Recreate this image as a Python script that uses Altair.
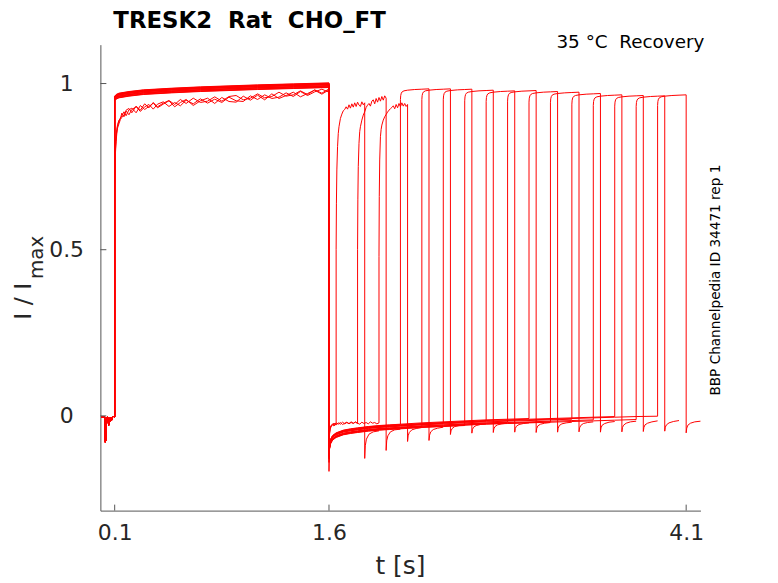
import altair as alt
import pandas as pd

# ---------------- values ----------------
X_TICKS = [0.1, 1.6, 4.1]
Y_TICKS = [0, 0.5, 1]
X_DOMAIN = [0.0, 4.2]
Y_DOMAIN = [-0.285, 1.117]

NB = "\u00a0"
TITLE = "TRESK2" + NB + " Rat" + NB + " CHO_FT"
SUBTITLE = "35 °C" + NB + " Recovery"
SIDE_TEXT = "BBP Channelpedia ID 34471 rep 1"
Y_LABEL_MAIN = "I / I"
Y_LABEL_SUB = "max"
X_LABEL = "t [s]"

# pre-pulse baseline (all sweeps)
PRE_T = [0.005, 0.03, 0.034, 0.037, 0.040, 0.043, 0.05, 0.058, 0.061, 0.066, 0.072, 0.078, 0.085, 0.092, 0.1]
PRE_I = [-0.003, -0.003, -0.079, -0.07, -0.075, -0.005, -0.004, -0.028, -0.006, -0.018, -0.004, -0.013, -0.003, -0.002, -0.003]

# conditioning pulse, smooth sweeps (4..16)
P1_T = [0.1, 0.11, 0.13, 0.2, 0.3, 0.5, 0.7, 0.9, 1.1, 1.35, 1.6]
P1_I = [0.956, 0.961, 0.965, 0.970, 0.975, 0.980, 0.984, 0.987, 0.990, 0.993, 0.996]
P1_OFFSET = [0.004, -0.006, 0.001, -0.003, 0.006, -0.008, 0.002, -0.004, 0.005, -0.002, 0.0, -0.007, 0.003]

# conditioning pulse, noisy sweeps (1..3)
N1_T = [0.1, 0.103, 0.106, 0.11, 0.115, 0.12, 0.13, 0.14, 0.15, 0.165, 0.18, 0.2, 0.22, 0.25, 0.28,
        0.31, 0.34, 0.37, 0.4, 0.44, 0.48, 0.52, 0.56, 0.6, 0.65, 0.7, 0.75, 0.8, 0.85, 0.9, 0.95,
        1.0, 1.05, 1.1, 1.15, 1.2, 1.25, 1.3, 1.35, 1.4, 1.45, 1.5, 1.55, 1.6]
N1_A = [0.70, 0.765, 0.805, 0.835, 0.858, 0.872, 0.886, 0.897, 0.902, 0.915, 0.903, 0.921, 0.926, 0.912, 0.934,
        0.922, 0.931, 0.941, 0.927, 0.938, 0.948, 0.93, 0.943, 0.952, 0.934, 0.948, 0.956, 0.94, 0.958, 0.946,
        0.944, 0.962, 0.95, 0.965, 0.951, 0.969, 0.955, 0.964, 0.974, 0.96, 0.97, 0.98, 0.968, 0.981]
N1_B = [0.68, 0.75, 0.795, 0.826, 0.85, 0.866, 0.879, 0.892, 0.898, 0.905, 0.917, 0.906, 0.922, 0.93, 0.916,
        0.93, 0.937, 0.923, 0.938, 0.945, 0.931, 0.943, 0.933, 0.95, 0.939, 0.954, 0.941, 0.953, 0.943, 0.959,
        0.948, 0.946, 0.963, 0.952, 0.966, 0.955, 0.959, 0.972, 0.961, 0.976, 0.964, 0.975, 0.983, 0.974]
N1_C = [0.72, 0.78, 0.815, 0.842, 0.862, 0.876, 0.89, 0.894, 0.911, 0.9, 0.92, 0.925, 0.912, 0.932, 0.92,
        0.939, 0.927, 0.943, 0.93, 0.941, 0.949, 0.937, 0.952, 0.94, 0.956, 0.943, 0.947, 0.96, 0.947, 0.961,
        0.964, 0.951, 0.956, 0.969, 0.957, 0.961, 0.974, 0.962, 0.966, 0.978, 0.967, 0.981, 0.971, 0.984]

# recovery interval, smooth sweeps
INT_T = [1.6, 1.603, 1.61, 1.625, 1.65, 1.70, 1.75, 1.80, 1.875, 1.95, 2.025, 2.10, 2.25, 2.40, 2.55,
         2.70, 2.85, 3.00, 3.15, 3.30, 3.45, 3.60, 3.75, 3.90]
INT_I = [-0.095, -0.078, -0.066, -0.058, -0.05, -0.046, -0.043, -0.039, -0.036, -0.034, -0.032, -0.028,
         -0.025, -0.022, -0.019, -0.017, -0.015, -0.013, -0.011, -0.009, -0.007, -0.005, -0.004]
SPIKE = [-0.12, -0.10, -0.167, -0.11, -0.13, -0.10, -0.12, -0.14, -0.11, -0.10, -0.125, -0.115, -0.105]
INT_OFFSET = [0.006, -0.004, 0.002, -0.007, 0.004, -0.002, 0.007, -0.005, 0.001, -0.003, 0.005, -0.006, 0.003]

# recovery interval, noisy sweeps
NI_T = [1.6, 1.603, 1.608, 1.615, 1.625, 1.635, 1.65, 1.665, 1.68, 1.695, 1.71, 1.725, 1.74, 1.755,
        1.77, 1.785, 1.80, 1.815, 1.83, 1.845, 1.86, 1.875, 1.89, 1.905, 1.92, 1.935, 1.95]
NI_A = [-0.11, -0.06, -0.04, -0.032, -0.028, -0.03, -0.025]
NI_B = [-0.10, -0.055, -0.038, -0.03, -0.026, -0.022, -0.027, -0.021, -0.025, -0.019, -0.024, -0.02,
        -0.023, -0.018, -0.022, -0.019, -0.023]
NI_C = [-0.09, -0.05, -0.036, -0.029, -0.024, -0.027, -0.021, -0.025, -0.02, -0.026, -0.022, -0.019,
        -0.024, -0.02, -0.023, -0.018, -0.022, -0.025, -0.019, -0.023, -0.02, -0.024, -0.018, -0.022,
        -0.02, -0.024, -0.021]

# test pulse onset / offset for each of the 16 sweeps
P2_START = [1.65, 1.80, 1.95, 2.10, 2.25, 2.40, 2.55, 2.70, 2.85, 3.00, 3.15, 3.30, 3.45, 3.60, 3.75, 3.90]
P2_END = [1.85, 2.00, 2.15, 2.30, 2.45, 2.60, 2.75, 2.90, 3.05, 3.20, 3.35, 3.50, 3.65, 3.80, 3.95, 4.10]

# test pulse, smooth sweeps
P2_REL_T = [0.0, 0.002, 0.006, 0.012, 0.025, 0.05, 0.1, 0.15, 0.2]
P2_DELTA = [-0.032, -0.02, -0.013, -0.009, -0.006, -0.004, -0.002, -0.001, 0.0]
P2_TOP = [0.984, 0.984, 0.983, 0.980, 0.978, 0.979, 0.976, 0.974, 0.970, 0.966, 0.964, 0.963, 0.966]

# test pulse, noisy sweeps
N2_REL_T = [0.0, 0.002, 0.005, 0.01, 0.015, 0.02, 0.03, 0.04, 0.05, 0.06, 0.07, 0.08, 0.09, 0.10,
            0.11, 0.12, 0.13, 0.14, 0.15, 0.16, 0.17, 0.18, 0.19, 0.20]
N2_A = [0.50, 0.64, 0.74, 0.81, 0.85, 0.87, 0.895, 0.908, 0.918, 0.922, 0.93, 0.923, 0.936, 0.926,
        0.939, 0.929, 0.942, 0.931, 0.944, 0.935, 0.931, 0.945, 0.936, 0.942]
N2_B = [0.50, 0.65, 0.75, 0.82, 0.855, 0.87, 0.89, 0.905, 0.915, 0.928, 0.935, 0.94, 0.932, 0.947,
        0.951, 0.939, 0.955, 0.944, 0.958, 0.947, 0.961, 0.95, 0.963, 0.956]
N2_C = [0.48, 0.66, 0.77, 0.84, 0.862, 0.875, 0.89, 0.9, 0.907, 0.914, 0.92, 0.924, 0.928, 0.933,
        0.924, 0.937, 0.927, 0.94, 0.93, 0.942, 0.932, 0.94, 0.931, 0.937]

# tail currents after the test pulse
TAIL_REL_T = [0.0, 0.004, 0.012, 0.03, 0.06, 0.1]
TAILS = [
    [-0.128, -0.09, -0.07, -0.055, -0.048, -0.045],
    [-0.104, -0.075, -0.06, -0.048, -0.042, -0.04],
    [-0.077, -0.06, -0.05, -0.042, -0.038, -0.035],
    [-0.074, -0.058, -0.048, -0.041, -0.037, -0.034],
    [-0.056, -0.045, -0.038, -0.032, -0.029, -0.027],
    [-0.052, -0.041, -0.034, -0.029, -0.026, -0.024],
    [-0.050, -0.039, -0.032, -0.027, -0.024, -0.022],
    [-0.049, -0.038, -0.031, -0.026, -0.023, -0.021],
    [-0.050, -0.038, -0.030, -0.025, -0.022, -0.020],
    [-0.049, -0.037, -0.029, -0.024, -0.021, -0.019],
    [-0.048, -0.036, -0.029, -0.023, -0.020, -0.018],
    [-0.049, -0.036, -0.028, -0.023, -0.019, -0.017],
    [-0.048, -0.035, -0.028, -0.022, -0.018, -0.016],
    [-0.047, -0.035, -0.027, -0.022, -0.018, -0.015],
    [-0.046, -0.034, -0.027, -0.021, -0.017, -0.014],
    [-0.051, -0.037, -0.028, -0.022, -0.018, -0.016],
]

# ---------------- build the table ----------------
rows = []


def add(sweep, ts, vs):
    for t, v in zip(ts, vs):
        rows.append({"sweep": sweep, "k": len(rows), "t": t, "I": v})


noisy_p1 = [N1_A, N1_B, N1_C]
noisy_int = [NI_A, NI_B, NI_C]
noisy_p2 = [N2_A, N2_B, N2_C]

for s in range(16):
    add(s, PRE_T, PRE_I)
    st, en = P2_START[s], P2_END[s]
    if s < 3:
        add(s, N1_T, noisy_p1[s])
        vals = noisy_int[s]
        add(s, NI_T[:len(vals)], vals)
        add(s, [st + r for r in N2_REL_T], noisy_p2[s])
    else:
        j = s - 3
        add(s, P1_T, [v + P1_OFFSET[j] for v in P1_I])
        its = [t for t in INT_T if t <= st + 1e-9]
        ivs = [SPIKE[j]] + [v + INT_OFFSET[j] for v in INT_I]
        add(s, its, ivs[:len(its)])
        add(s, [st + r for r in P2_REL_T], [P2_TOP[j] + d for d in P2_DELTA])
    add(s, [en + r for r in TAIL_REL_T], TAILS[s])

df = pd.DataFrame(rows)

# ---------------- chart ----------------
AX = "#555555"
LBL = "#262626"
FONT = "DejaVu Sans"

xscale = alt.Scale(domain=X_DOMAIN, nice=False, zero=False)
yscale = alt.Scale(domain=Y_DOMAIN, nice=False, zero=False)
xaxis = alt.Axis(values=X_TICKS, format=".1f", title=None, grid=False, ticks=False, tickSize=0,
                 domainColor=AX, domainWidth=1, labelColor=LBL, labelFont=FONT,
                 labelFontSize=22, labelPadding=12)
yaxis = alt.Axis(values=Y_TICKS, format="~g", title=None, grid=False, ticks=False, tickSize=0,
                 domainColor=AX, domainWidth=1, labelColor=LBL, labelFont=FONT,
                 labelFontSize=22, labelPadding=34.5, labelAlign="center")

W, H = 604, 469

lines = alt.Chart(df).mark_line(color="#ff0000", strokeWidth=1.0).encode(
    x=alt.X("t:Q", scale=xscale, axis=xaxis),
    y=alt.Y("I:Q", scale=yscale, axis=yaxis),
    detail="sweep:N",
    order="k:Q",
)

xt = alt.Chart(pd.DataFrame({"t": X_TICKS})).mark_rule(color=AX, strokeWidth=1).encode(
    x=alt.X("t:Q", scale=xscale, axis=xaxis),
    y=alt.value(H), y2=alt.value(H - 6),
)
yt = alt.Chart(pd.DataFrame({"I": Y_TICKS})).mark_rule(color=AX, strokeWidth=1).encode(
    y=alt.Y("I:Q", scale=yscale, axis=yaxis),
    x=alt.value(0), x2=alt.value(6),
)

one = pd.DataFrame({"k": [0]})


def txt(text, x, y, **kw):
    return alt.Chart(one).mark_text(text=text, font=FONT, **kw).encode(
        x=alt.value(x), y=alt.value(y))


title = txt(TITLE, 13, -17, fontSize=23, fontWeight="bold", align="left",
            baseline="alphabetic", color="#000000")
sub = txt(SUBTITLE, 608, 3, fontSize=18.5, align="right", baseline="alphabetic", color="#000000")
side = txt(SIDE_TEXT, 620, 237, fontSize=13.7, angle=270, align="center",
           baseline="middle", color="#000000")
ylab = txt(Y_LABEL_MAIN, -70, 277, fontSize=24, angle=270, align="left",
           baseline="alphabetic", color=LBL)
ysub = txt(Y_LABEL_SUB, -58, 236, fontSize=20, angle=270, align="left",
           baseline="alphabetic", color=LBL)
xlab = txt(X_LABEL, W / 2, 533, fontSize=25, align="center", baseline="alphabetic", color=LBL)

chart = alt.layer(lines, xt, yt, title, sub, side, ylab, ysub, xlab).properties(
    width=W, height=H,
    autosize=alt.AutoSizeParams(type="none"),
    padding={"left": 93, "top": 35, "right": 70, "bottom": 74},
    background="white",
).configure_view(strokeWidth=0)

chart.save("out.html", embed_options={"renderer": "svg", "actions": False})
